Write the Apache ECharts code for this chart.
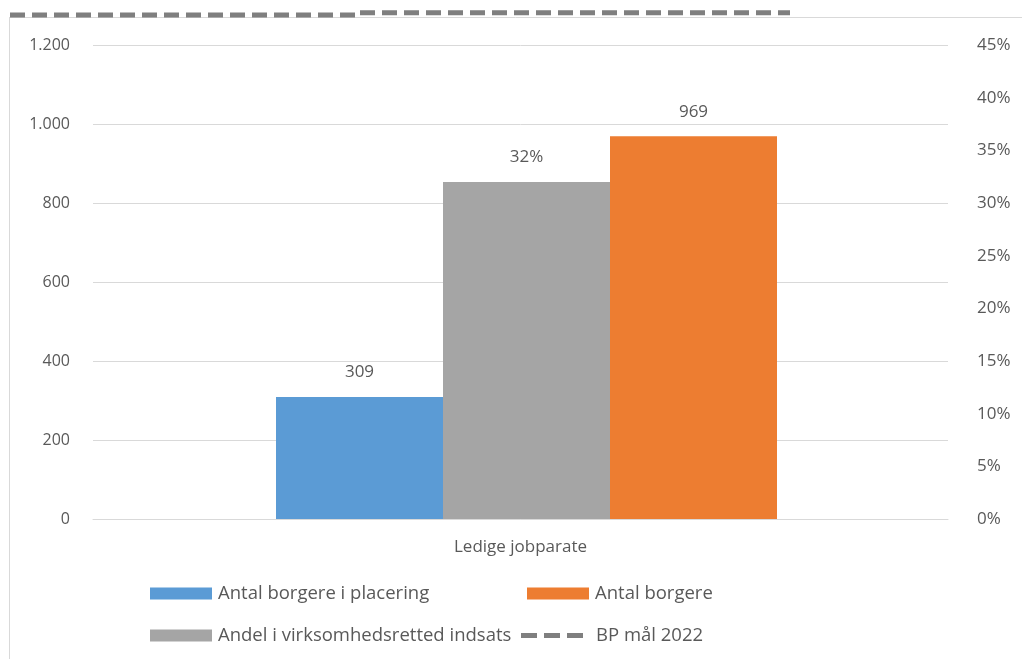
<!DOCTYPE html>
<html>
<head>
<meta charset="utf-8">
<script src="https://cdn.jsdelivr.net/npm/echarts@6/dist/echarts.min.js"></script>
<style>
html,body{margin:0;padding:0;background:#fff;}
#c{width:1022px;height:659px;}
</style>
</head>
<body>
<div id="c"></div>
<script>
const categories = ['Ledige jobparate'];
const placering = [309];
const andel = [32];
const borgere = [969];
const leftTicks = [0, 200, 400, 600, 800, 1000, 1200];
const rightTicks = [0, 5, 10, 15, 20, 25, 30, 35, 40, 45];
// BP mål 2022 (line drawn across top, percent scale, stepped)
const bpLine = [[10, 47.85], [355, 47.85], [358, null], [360, 48.05], [790, 48.05]];

const FONT = '"Open Sans", "Liberation Sans", sans-serif';
const TXT = '#595959';
const chart = echarts.init(document.getElementById('c'));

function fmtThousands(v){ return String(v).replace(/\B(?=(\d{3})+(?!\d))/g, '.'); }

const legendBase = {
  itemWidth: 62, itemHeight: 12,
  textStyle: { color: TXT, fontSize: 18.5, fontFamily: FONT, padding: [0,0,0,1] },
  selectedMode: false, orient: 'horizontal', padding: 0
};

chart.setOption({
  animation: false,
  textStyle: { fontFamily: FONT },
  graphic: [
    { type: 'line', shape: { x1: 9, y1: 17.5, x2: 1022, y2: 17.5 }, style: { stroke: '#d9d9d9', lineWidth: 1 } },
    { type: 'line', shape: { x1: 9.5, y1: 17, x2: 9.5, y2: 659 }, style: { stroke: '#d9d9d9', lineWidth: 1 } }
  ],
  legend: [
    Object.assign({}, legendBase, { left: 150, top: 584, data: [{ name: 'Antal borgere i placering', icon: 'rect' }] }),
    Object.assign({}, legendBase, { left: 527, top: 584, data: [{ name: 'Antal borgere', icon: 'rect' }] }),
    Object.assign({}, legendBase, { left: 150, top: 626, data: [{ name: 'Andel i virksomhedsretted indsats', icon: 'rect' }] }),
    Object.assign({}, legendBase, { left: 521, top: 626, itemWidth: 62, itemHeight: 5,
      textStyle: { color: TXT, fontSize: 18.5, fontFamily: FONT, padding: [0,0,0,8] },
      data: [{ name: 'BP mål 2022', icon: 'path://M0,0h16v5h-16z M23,0h16v5h-16z M46,0h16v5h-16z' }] })
  ],
  grid: [
    { left: 93, right: 74, top: 45, bottom: 140, containLabel: false },
    { left: 0, right: 0, top: 45, bottom: 140, containLabel: false }
  ],
  xAxis: [
    {
      type: 'category', data: categories, gridIndex: 0,
      axisLine: { show: true, lineStyle: { color: '#d9d9d9', width: 1 } },
      axisTick: { show: false },
      axisLabel: { color: TXT, fontSize: 17, fontFamily: FONT, margin: 20 }
    },
    { type: 'value', gridIndex: 1, min: 0, max: 1022, show: false }
  ],
  yAxis: [
    {
      type: 'value', gridIndex: 0, min: 0, max: 1200, interval: 200,
      axisLine: { show: false }, axisTick: { show: false },
      splitLine: { lineStyle: { color: '#d9d9d9', width: 1 } },
      axisLabel: { color: TXT, fontSize: 16, fontFamily: FONT, margin: 23, formatter: v => fmtThousands(v) }
    },
    {
      type: 'value', gridIndex: 0, min: 0, max: 45, interval: 5, position: 'right',
      axisLine: { show: false }, axisTick: { show: false }, splitLine: { show: false },
      axisLabel: { color: TXT, fontSize: 17, fontFamily: FONT, margin: 29, formatter: v => v + '%' }
    },
    { type: 'value', gridIndex: 1, min: 0, max: 45, show: false }
  ],
  series: [
    {
      name: '_offset', type: 'bar', xAxisIndex: 0, yAxisIndex: 0, silent: true,
      data: ['-'], barWidth: 12, barGap: '0%', itemStyle: { color: 'rgba(0,0,0,0)' }
    },
    {
      name: 'Antal borgere i placering', type: 'bar', xAxisIndex: 0, yAxisIndex: 0,
      data: placering, barWidth: 167, barGap: '0%',
      itemStyle: { color: '#5b9bd5' },
      label: { show: true, position: 'top', distance: 16, color: TXT, fontSize: 17, fontFamily: FONT }
    },
    {
      name: 'Andel i virksomhedsretted indsats', type: 'bar', xAxisIndex: 0, yAxisIndex: 1,
      data: andel, barWidth: 167, barGap: '0%',
      itemStyle: { color: '#a5a5a5' },
      label: { show: true, position: 'top', distance: 16, color: TXT, fontSize: 17, fontFamily: FONT, formatter: p => p.value + '%' }
    },
    {
      name: 'Antal borgere', type: 'bar', xAxisIndex: 0, yAxisIndex: 0,
      data: borgere, barWidth: 167, barGap: '0%',
      itemStyle: { color: '#ed7d31' },
      label: { show: true, position: 'top', distance: 16, color: TXT, fontSize: 17, fontFamily: FONT }
    },
    {
      name: 'BP mål 2022', type: 'line', xAxisIndex: 1, yAxisIndex: 2,
      data: bpLine, clip: false, showSymbol: false, connectNulls: false,
      lineStyle: { color: '#7f7f7f', width: 5, type: [15, 7] },
      itemStyle: { color: '#7f7f7f' }
    }
  ]
});
</script>
</body>
</html>
